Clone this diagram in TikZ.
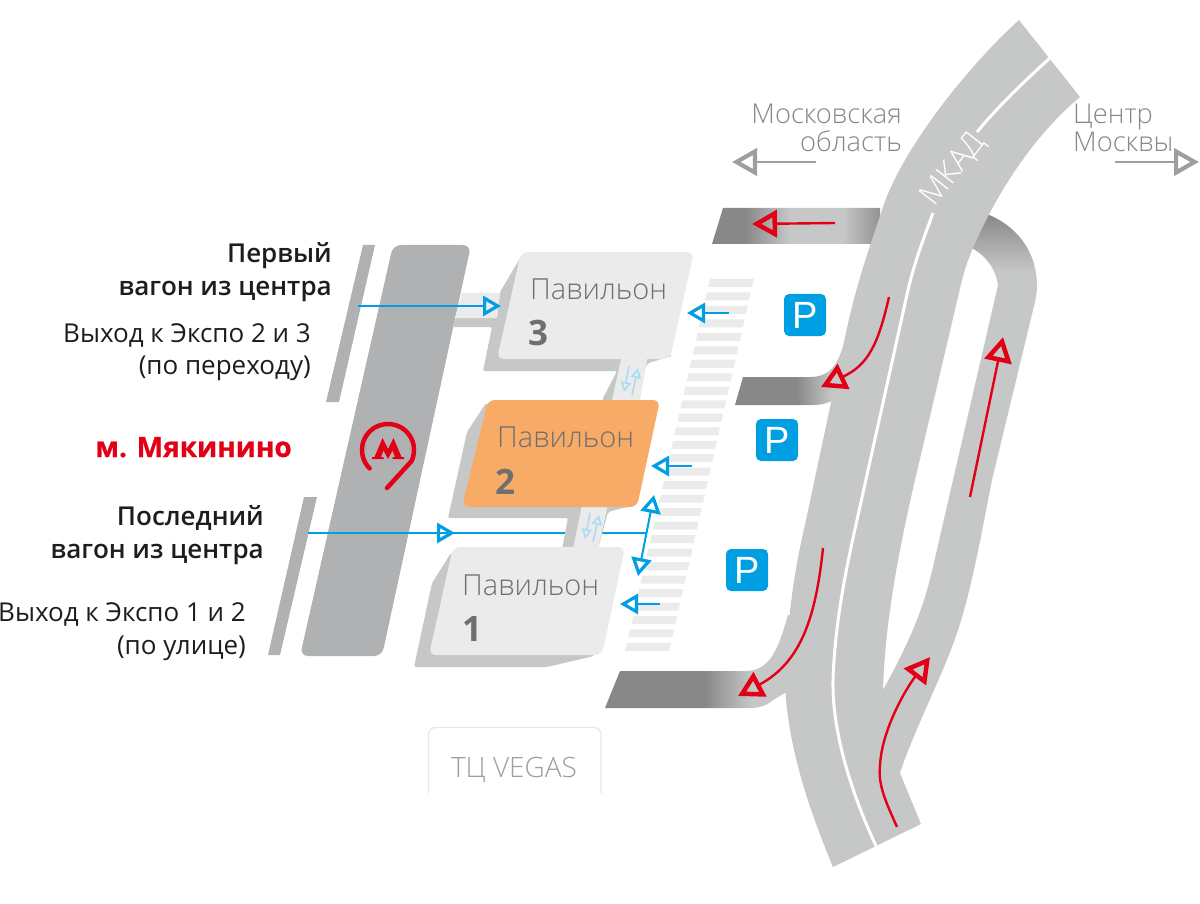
\documentclass[tikz,border=0pt]{standalone}
\usepackage{fontspec}
\setmainfont{Open Sans}
\newfontfamily\oslight{Open Sans Light}
\newfontfamily\ossemi{Open Sans Semibold}
\newfontfamily\libsans{Liberation Sans}
\usetikzlibrary{arrows.meta}
\definecolor{roadc}{HTML}{C6C8C7}
\definecolor{rampd}{HTML}{888888}
\definecolor{metroc}{HTML}{B0B1B3}
\definecolor{facec}{HTML}{EBEBEB}
\definecolor{orangec}{HTML}{F8AB67}
\definecolor{bluec}{HTML}{009FE3}
\definecolor{paleb}{HTML}{A8DBF5}
\definecolor{redc}{HTML}{E30016}
\definecolor{greyt}{HTML}{878787}
\definecolor{greya}{HTML}{9D9E9E}
\definecolor{dark}{HTML}{1D1D1B}
\definecolor{pavt}{HTML}{6F6F6E}
\definecolor{vegasc}{HTML}{E6E6E6}
\tikzset{
  bluearrow/.style={draw=bluec,line width=1.6pt,-{Triangle[open,length=18pt,width=20pt,line width=3.2pt]}},
  bluedouble/.style={draw=bluec,line width=2pt,{Triangle[open,length=18pt,width=20pt,line width=3.2pt]}-{Triangle[open,length=18pt,width=20pt,line width=3.2pt]}},
  redarrow/.style={draw=redc,line width=2.4pt,-{Triangle[open,length=25pt,width=27pt,line width=4.5pt]}},
  greyarrow/.style={draw=greya,line width=2.4pt,-{Triangle[open,length=25pt,width=27pt,line width=4.2pt]}},
  palearrow/.style={draw=paleb,line width=1.5pt,-{Triangle[open,length=10pt,width=10pt,line width=1.6pt]}},
  face/.style={fill=facec,rounded corners=7pt},
  shadowp/.style={fill=roadc,rounded corners=2pt},
  pavtext/.style={inner sep=0pt,anchor=base west,text=pavt,font=\oslight\fontsize{29}{29}\selectfont},
  pavnum/.style={inner sep=0pt,anchor=base west,text=pavt,font=\bfseries\fontsize{35}{35}\selectfont},
  lbl/.style={inner sep=0pt,anchor=base east,text=dark,font=\fontsize{26}{26}\selectfont},
  lblb/.style={inner sep=0pt,anchor=base east,text=dark,font=\ossemi\fontsize{26}{26}\selectfont},
  dirt/.style={inner sep=0pt,text=greyt,font=\oslight\fontsize{27.3}{27.3}\selectfont},
  psign/.style={fill=bluec,text=white,rounded corners=5pt,minimum size=42pt,inner sep=0pt,font=\libsans\fontsize{38}{38}\selectfont},
}
\begin{document}
\begin{tikzpicture}[x=1pt,y=-1pt]
\useasboundingbox (0,0) rectangle (1200,904);
% ramps under the road
\begin{scope}
 \clip (723,208) -- (890,208) -- (875,244) -- (712,244) -- cycle;
 \fill[rampd] (700,200) rectangle (745,250);
 \shade[left color=rampd,right color=roadc] (745,200) rectangle (790,250);
 \fill[roadc] (790,200) rectangle (843,250);
 \shade[left color=roadc,right color=rampd!85!roadc] (843,200) rectangle (880,250);
\end{scope}
\begin{scope}
 \clip (743,377) -- (810,377) .. controls (833,377) and (840,360) .. (846,335) -- (860,335) -- (845,400) -- (832,401) .. controls (825,404) and (820,405) .. (813,405) -- (735,405) -- cycle;
 \fill[rampd] (730,330) rectangle (797,410);
 \shade[left color=rampd,right color=roadc] (797,330) rectangle (832,410);
 \fill[roadc] (832,330) rectangle (865,410);
\end{scope}
\begin{scope}
 \clip (620,671) -- (745,671) .. controls (770,671) and (778,650) .. (788,615) -- (805,615) -- (790,690) -- (773,700) .. controls (768,705) and (760,708) .. (750,708) -- (605,708) -- cycle;
 \fill[rampd] (600,610) rectangle (705,712);
 \shade[left color=rampd,right color=roadc] (705,610) rectangle (752,712);
 \fill[roadc] (752,610) rectangle (810,712);
\end{scope}
\begin{scope}
 \clip (980,210) -- (987,214) .. controls (1015,225) and (1037,250) .. (1037,286) -- (998,286) .. controls (996,268) and (985,255) .. (970,247) -- cycle;
 \shade[top color=rampd,bottom color=roadc] (965,214) rectangle (1040,272);
 \fill[roadc] (965,272) rectangle (1040,288);
\end{scope}
% road
\fill[roadc] (1019,20) .. controls (964,70) and (901,152) .. (883,207)
 .. controls (865,260) and (855,290) .. (845,337) -- (806,520)
 .. controls (798,555) and (788,600) .. (785,683)
 .. controls (787,740) and (805,800) .. (833,867)
 -- (921,824) -- (900,773)
 .. controls (912,735) and (945,670) .. (957,633)
 .. controls (972,590) and (985,515) .. (992,480)
 -- (1034,306) .. controls (1036,298) and (1037,292) .. (1037,285)
 -- (998,285) -- (953,480) -- (935,558)
 .. controls (926,600) and (915,632) .. (883,690)
 .. controls (885,620) and (900,545) .. (915,480) -- (962,280)
 .. controls (965,268) and (968,260) .. (973,248)
 .. controls (1000,185) and (1040,130) .. (1080,97) -- cycle;
% divider
\coordinate (dv1) at (1050,58);
\coordinate (dv2) at (977,132);
\coordinate (dv3) at (933,213);
\coordinate (dv4) at (876,846);
\draw[white,line width=3pt] (dv1) .. controls (1020,85) and (995,110) .. (dv2);
\draw[white,line width=3pt] (dv3) .. controls (925,235) and (915,260) .. (908,290) -- (857,520)
  .. controls (847,565) and (835,620) .. (833,680) .. controls (832,730) and (850,790) .. (dv4);
\node[inner sep=0pt,rotate=52,text=white,font=\oslight\fontsize{31}{31}\selectfont] (mkad) at (954,170) {МКАД};
% crossing
\foreach \i in {0,...,27}{
  \fill[facec] ({710-3.07*\i},{279+13.48*\i}) -- ++(44,0) -- ++(-2,8) -- ++(-44,0) -- cycle;
}
% metro
\fill[metroc,rounded corners=8pt] (393,245) -- (471,245) -- (382,656) -- (300,656) -- cycle;
\fill[metroc] (363,245) -- (375,245) -- (339,402) -- (326,402) -- cycle;
\fill[metroc] (304,497) -- (317,497) -- (280,655) -- (268,655) -- cycle;
% lower blue line (runs under the shadows)
\coordinate (l2a) at (308,533);
\coordinate (l2b) at (455,533);
\coordinate (l2c) at (647,533);
\draw[bluec,line width=1.6pt] (l2a) -- (l2c);
\draw[bluearrow] (l2a) -- (l2b);
% shadows
\fill[shadowp] (522,255) -- (500,292) -- (497,318) -- (455,318) -- (453,327) -- (492,327) -- (483,371) -- (617,371) -- (602,400) -- (625,400) -- (648,363) -- (672,356) -- cycle;
\fill[shadowp] (486,403) -- (467,432) -- (448,518) -- (568,518) -- (562,549) -- (598,549) -- (608,512) -- (635,505) -- cycle;
\fill[shadowp] (451,553) -- (432,583) -- (414,667) -- (547,667) -- (594,656) -- (600,640) -- cycle;
% bars
\fill[facec] (462,293) -- (500,293) -- (497,318) -- (455,318) -- cycle;
\fill[facec] (622,355) -- (648,355) -- (640,400) -- (612,400) -- cycle;
\fill[facec] (582,505) -- (608,505) -- (598,549) -- (573,549) -- cycle;
% upper blue line
\coordinate (l1a) at (358,306);
\coordinate (l1b) at (501,306);
\draw[bluearrow] (l1a) -- (l1b);
% small arrows on bridges
\coordinate (p1a) at (629,366); \coordinate (p1b) at (624,392);
\coordinate (p1c) at (632,395); \coordinate (p1d) at (638,368);
\coordinate (p2a) at (590,513); \coordinate (p2b) at (585,539);
\coordinate (p2c) at (593,542); \coordinate (p2d) at (599,515);
\draw[palearrow] (p1a) -- (p1b);
\draw[palearrow] (p1c) -- (p1d);
\draw[palearrow] (p2a) -- (p2b);
\draw[palearrow] (p2c) -- (p2d);
% pavilion faces
\fill[face] (521,252) -- (694,252) -- (670,359) -- (497,359) -- cycle;
\fill[face,fill=orangec] (488,400) -- (660,400) -- (637,507) -- (462,507) -- cycle;
\fill[face] (453,547) -- (625,547) -- (602,655) -- (429,655) -- cycle;
\node[pavtext] (t3) at (530,299) {Павильон};
\node[pavnum] (n3) at (528,345) {3};
\node[pavtext] (t2) at (497,447) {Павильон};
\node[pavnum] (n2) at (495,494) {2};
\node[pavtext] (t1) at (462,595) {Павильон};
\node[pavnum] (n1) at (462,641) {1};
% blue arrows
\coordinate (b3a) at (729,313); \coordinate (b3b) at (687,313);
\coordinate (b2a) at (692,466); \coordinate (b2b) at (651,466);
\coordinate (b1a) at (660,604); \coordinate (b1b) at (620,604);
\coordinate (bda) at (654,495); \coordinate (bdb) at (638,576);
\draw[bluearrow] (b3a) -- (b3b);
\draw[bluearrow] (b2a) -- (b2b);
\draw[bluearrow] (b1a) -- (b1b);
\draw[bluedouble] (bda) -- (bdb);
% parking
\node[psign] (p3) at (805,315) {P};
\node[psign] (p2) at (777,440) {P};
\node[psign] (p1) at (747,570) {P};
% red arrows
\coordinate (r1a) at (835,223); \coordinate (r1b) at (752,224);
\coordinate (r2a) at (889,297); \coordinate (r2b) at (821,387);
\coordinate (r3a) at (970,497); \coordinate (r3b) at (1003,337);
\coordinate (r4a) at (823,548); \coordinate (r4b) at (738,696);
\coordinate (r5a) at (897,827); \coordinate (r5m) at (880,765); \coordinate (r5b) at (930,657);
\draw[redarrow] (r1a) -- (r1b);
\draw[redarrow] (r2a) .. controls (878,345) and (868,365) .. (r2b);
\draw[redarrow] (r3a) -- (r3b);
\draw[redarrow] (r4a) .. controls (816,615) and (802,662) .. (r4b);
\draw[redarrow] (r5a) .. controls (885,800) and (878,785) .. (r5m) .. controls (882,730) and (905,690) .. (r5b);
% grey arrows
\coordinate (g1a) at (816,162); \coordinate (g1b) at (732,162);
\coordinate (g2a) at (1115,162); \coordinate (g2b) at (1199,162);
\draw[greyarrow] (g1a) -- (g1b);
\draw[greyarrow] (g2a) -- (g2b);
\node[dirt,anchor=base east] (d1) at (902,124) {Московская};
\node[dirt,anchor=base east] (d2) at (902,152) {область};
\node[dirt,anchor=base west] (d3) at (1073,124) {Центр};
\node[dirt,anchor=base west] (d4) at (1073,152) {Москвы};
% labels
\node[lblb] (a1) at (332,262) {Первый};
\node[lblb] (a2) at (332,295) {вагон из центра};
\node[lbl] (a3) at (311,342) {Выход к Экспо 2 и 3};
\node[lbl] (a4) at (311,374) {(по переходу)};
\node[lblb] (c1) at (264,525) {Последний};
\node[lblb] (c2) at (264,558) {вагон из центра};
\node[lbl] (c3) at (246,621) {Выход к Экспо 1 и 2};
\node[lbl] (c4) at (246,654) {(по улице)};
\node[inner sep=0pt,anchor=base east,text=redc,font=\bfseries\addfontfeature{FakeBold=0.7}\fontsize{28}{28}\selectfont] (mname) at (292,457) {м. Мякинино};
% metro logo
\draw[redc,line width=4.5pt,line cap=round,line join=round] plot[domain=225:-25,samples=50] ({388+26*cos(\x)},{450-26*sin(\x)}) -- (387,488);
\fill[redc] (372,459) -- (372,457) -- (374.5,457) -- (382.5,438) -- (388,449) -- (393.5,438) -- (401.5,457) -- (404,457) -- (404,459) -- (392.5,459) -- (392.5,457) -- (395,457) -- (392.5,450.5) -- (388,459) -- (383.5,450.5) -- (381,457) -- (383.5,457) -- (383.5,459) -- cycle;
% vegas
\draw[vegasc,line width=1.2pt,rounded corners=7pt] (428.5,793) -- (428.5,727.5) -- (601,727.5) -- (601,793);
\node[inner sep=0pt,anchor=base,text=greya,font=\oslight\fontsize{28}{28}\selectfont] (vegas) at (514,777) {ТЦ VEGAS};
\end{tikzpicture}
\end{document}
